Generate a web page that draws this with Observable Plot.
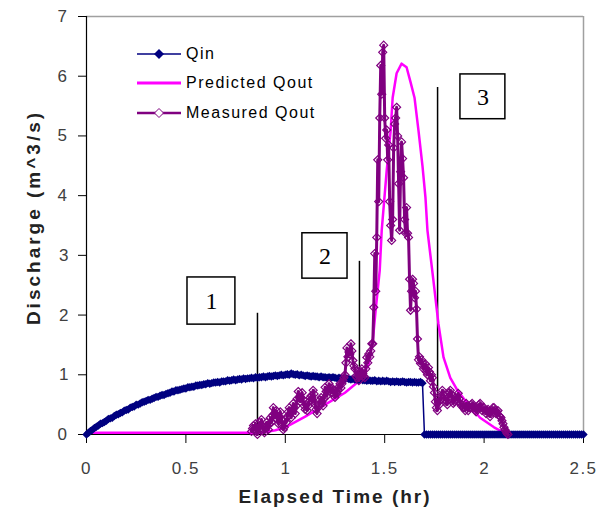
<!DOCTYPE html>
<html>
<head>
<meta charset="utf-8">
<script src="https://cdn.jsdelivr.net/npm/d3@7"></script>
<script src="https://cdn.jsdelivr.net/npm/@observablehq/plot@0.6"></script>
<style>
  html, body { margin: 0; padding: 0; background: #fff; }
  #wrap { position: relative; width: 609px; height: 518px; font-family: "Liberation Sans", Arial, sans-serif; }
  #legend { position: absolute; left: 137px; top: 39px; font-size: 16px; color: #000; letter-spacing: 1.5px; }
  #legend .row { display: flex; align-items: center; height: 29.5px; }
  #legend svg { margin-right: 5px; }
</style>
</head>
<body>
<div id="wrap"><div id="legend"></div></div>
<script>
// ---- data ----
const xTicks = [0, 0.5, 1, 1.5, 2, 2.5];
const yTicks = [0, 1, 2, 3, 4, 5, 6, 7];
const xTitle = "Elapsed Time (hr)";
const yTitle = "Discharge (m^3/s)";

// Qin sampled every 0.01 hr from 0 to 2.5
const qinStep = 0.01;
const qinValues = [
  0, 0.03, 0.06, 0.08, 0.11, 0.13, 0.15, 0.18, 0.19, 0.21,
  0.23, 0.26, 0.27, 0.28, 0.31, 0.33, 0.34, 0.36, 0.37, 0.40,
  0.41, 0.42, 0.45, 0.46, 0.47, 0.50, 0.50, 0.52, 0.54, 0.55,
  0.56, 0.58, 0.58, 0.60, 0.61, 0.63, 0.63, 0.65, 0.66, 0.66,
  0.68, 0.69, 0.70, 0.72, 0.72, 0.74, 0.74, 0.75, 0.76, 0.77,
  0.77, 0.79, 0.79, 0.80, 0.80, 0.82, 0.82, 0.83, 0.83, 0.84,
  0.84, 0.86, 0.85, 0.86, 0.87, 0.87, 0.88, 0.87, 0.89, 0.89,
  0.89, 0.91, 0.90, 0.91, 0.92, 0.91, 0.92, 0.93, 0.92, 0.94,
  0.93, 0.94, 0.94, 0.95, 0.94, 0.96, 0.95, 0.96, 0.96, 0.97,
  0.96, 0.97, 0.98, 0.97, 0.98, 0.99, 0.98, 0.99, 1.00, 0.99,
  1.00, 1.01, 1.00, 1.02, 1.01, 1.00, 1.01, 0.99, 1.00, 0.99,
  0.98, 0.99, 0.98, 0.97, 0.98, 0.97, 0.97, 0.96, 0.97, 0.96,
  0.96, 0.95, 0.96, 0.95, 0.96, 0.95, 0.94, 0.95, 0.94, 0.94,
  0.93, 0.94, 0.93, 0.92, 0.93, 0.92, 0.92, 0.91, 0.92, 0.91,
  0.91, 0.90, 0.91, 0.90, 0.90, 0.91, 0.89, 0.90, 0.89, 0.90,
  0.89, 0.90, 0.89, 0.88, 0.89, 0.88, 0.89, 0.88, 0.88, 0.89,
  0.88, 0.87, 0.88, 0.88, 0.87, 0.88, 0.87, 0.87, 0.88, 0.86,
  0, 0, 0, 0, 0, 0, 0, 0, 0, 0,
  0, 0, 0, 0, 0, 0, 0, 0, 0, 0,
  0, 0, 0, 0, 0, 0, 0, 0, 0, 0,
  0, 0, 0, 0, 0, 0, 0, 0, 0, 0,
  0, 0, 0, 0, 0, 0, 0, 0, 0, 0,
  0, 0, 0, 0, 0, 0, 0, 0, 0, 0,
  0, 0, 0, 0, 0, 0, 0, 0, 0, 0,
  0, 0, 0, 0, 0, 0, 0, 0, 0, 0,
  0
];

const predTime = [0, 0.88, 0.95, 1.0, 1.1, 1.2, 1.3, 1.38, 1.42, 1.44, 1.455, 1.475, 1.485, 1.51, 1.53, 1.54, 1.56, 1.585, 1.61, 1.63, 1.65, 1.67, 1.69, 1.705, 1.715, 1.745, 1.77, 1.796, 1.83, 1.866, 1.916, 1.98, 2.05, 2.1, 2.2];
const predQ    = [0.03, 0.03, 0.07, 0.12, 0.3, 0.5, 0.7, 0.92, 1.19, 1.57, 2.1, 2.75, 3.42, 4.42, 5.09, 5.64, 6.05, 6.21, 6.15, 5.9, 5.64, 5.09, 4.5, 3.97, 3.42, 2.58, 1.86, 1.29, 0.95, 0.74, 0.52, 0.28, 0.12, 0.03, 0.03];

// Measured Qout sampled every 0.005 hr from 0.83 to 2.12
const measStart = 0.83;
const measStep = 0.005;
const measQ = [
  0.05, 0.10, 0.15, 0.08, 0.18, 0.05, 0.00, 0.12, 0.20, 0.10,
  0.25, 0.15, 0.08, 0.03, 0.12, 0.20, 0.15, 0.08, 0.18, 0.28,
  0.20, 0.32, 0.45, 0.35, 0.28, 0.40, 0.25, 0.18, 0.30, 0.38,
  0.25, 0.15, 0.08, 0.12, 0.25, 0.20, 0.30, 0.38, 0.45, 0.35,
  0.28, 0.40, 0.52, 0.45, 0.35, 0.48, 0.60, 0.72, 0.62, 0.55,
  0.62, 0.70, 0.58, 0.48, 0.42, 0.50, 0.40, 0.48, 0.55, 0.62,
  0.65, 0.55, 0.74, 0.68, 0.50, 0.42, 0.35, 0.45, 0.50, 0.58,
  0.62, 0.55, 0.48, 0.60, 0.79, 0.72, 0.65, 0.75, 0.85, 0.78,
  0.70, 0.78, 0.75, 0.68, 0.62, 0.70, 0.69, 0.75, 0.80, 0.85,
  0.78, 0.85, 0.90, 0.95, 1.00, 1.20, 1.45, 1.30, 1.38, 1.35,
  1.52, 1.40, 1.24, 1.15, 1.10, 0.98, 0.95, 1.05, 0.90, 0.98,
  1.05, 1.10, 1.02, 0.98, 0.95, 1.10, 1.29, 1.20, 1.35, 1.30,
  1.40, 1.52, 1.52, 2.13, 3.03, 2.40, 3.30, 4.60, 3.90, 5.30,
  6.18, 5.70, 6.40, 6.52, 5.30, 4.96, 5.10, 4.60, 4.85, 3.90,
  3.50, 3.25, 3.60, 4.80, 5.20, 5.30, 5.48, 5.00, 4.20, 3.42,
  4.40, 4.90, 4.62, 4.30, 3.60, 3.37, 3.80, 3.37, 3.30, 2.60,
  2.08, 2.40, 2.60, 2.53, 2.29, 2.40, 2.10, 1.60, 1.25, 1.30,
  1.19, 1.25, 1.20, 1.10, 1.12, 1.18, 1.05, 1.00, 1.12, 1.05,
  0.90, 1.00, 0.95, 0.80, 0.70, 0.55, 0.45, 0.40, 0.60, 0.50,
  0.57, 0.65, 0.74, 0.68, 0.65, 0.58, 0.55, 0.50, 0.62, 0.70,
  0.74, 0.68, 0.60, 0.52, 0.55, 0.62, 0.58, 0.62, 0.69, 0.60,
  0.52, 0.48, 0.50, 0.45, 0.45, 0.40, 0.52, 0.48, 0.40, 0.45,
  0.45, 0.50, 0.52, 0.48, 0.45, 0.40, 0.38, 0.42, 0.45, 0.50,
  0.52, 0.45, 0.40, 0.45, 0.45, 0.40, 0.35, 0.40, 0.42, 0.36,
  0.30, 0.35, 0.40, 0.45, 0.45, 0.40, 0.35, 0.38, 0.40, 0.32,
  0.30, 0.28, 0.23, 0.18, 0.12, 0.08, 0.05, 0.02, 0.00
];

// numbered annotation boxes and their marker lines (data units)
const noteLabels = ["1", "2", "3"];
const noteBoxX1 = [0.508, 1.086, 1.881];
const noteBoxX2 = [0.749, 1.313, 2.107];
const noteBoxY1 = [1.84, 2.61, 5.28];
const noteBoxY2 = [2.63, 3.37, 6.03];
const noteLineX = [0.86, 1.373, 1.766];
const noteLineY1 = [0.03, 0.99, 0.52];
const noteLineY2 = [2.03, 2.90, 5.81];

const seriesNames = ["Qin", "Predicted Qout", "Measured Qout"];
const seriesColors = ["#000080", "#FF00FF", "#800080"];

// ---- build tables ----
const qin = qinValues.map((q, i) => ({t: +(i * qinStep).toFixed(3), q}));
const pred = predTime.map((t, i) => ({t, q: predQ[i]}));
const meas = measQ.map((q, i) => ({t: +(measStart + i * measStep).toFixed(4), q}));
const notes = noteLabels.map((label, i) => ({
  label, x1: noteBoxX1[i], x2: noteBoxX2[i], y1: noteBoxY1[i], y2: noteBoxY2[i],
  lx: noteLineX[i], ly1: noteLineY1[i], ly2: noteLineY2[i]
}));

const chart = Plot.plot({
  width: 609,
  height: 518,
  marginLeft: 86,
  marginRight: 26,
  marginTop: 16,
  marginBottom: 84,
  style: {fontFamily: "'Liberation Sans', Arial, sans-serif", background: "white", overflow: "visible"},
  x: {domain: [0, 2.5], label: null},
  y: {domain: [0, 7], label: null},
  marks: [
    // plot frame (top/right gray)
    Plot.ruleY([7], {stroke: "#a0a0a0", strokeWidth: 1.5}),
    Plot.ruleX([2.5], {stroke: "#a0a0a0", strokeWidth: 1.5}),
    // axes
    Plot.axisX(xTicks, {tickSize: 9, tickPadding: 18, fontSize: 17, stroke: "black", fill: "#404040", tickFormat: d => String(d)}),
    Plot.axisY(yTicks, {tickSize: 8, tickPadding: 10, fontSize: 17, stroke: "black", fill: "#404040", tickFormat: d => String(d)}),
    Plot.ruleX([0], {stroke: "black", strokeWidth: 1.2}),
    Plot.ruleY([0], {stroke: "black", strokeWidth: 1.2}),
    Plot.text([xTitle], {frameAnchor: "bottom", dy: 68, fontWeight: "bold", fontSize: 19, fill: "#222"}),
    Plot.text([yTitle], {frameAnchor: "left", dx: -53, dy: -8, rotate: -90, textAnchor: "middle", fontWeight: "bold", fontSize: 19, fill: "#222"}),
    // annotation lines and boxes
    Plot.ruleX(notes, {x: "lx", y1: "ly1", y2: "ly2", stroke: "black", strokeWidth: 1.5}),
    Plot.rect(notes, {x1: "x1", x2: "x2", y1: "y1", y2: "y2", fill: "white", stroke: "black", strokeWidth: 1.5}),
    Plot.text(notes, {x: d => (d.x1 + d.x2) / 2, y: d => (d.y1 + d.y2) / 2, text: "label", fontFamily: "'Liberation Serif', 'Times New Roman', serif", fontSize: 24, fill: "black"}),
    // series
    Plot.line(pred, {x: "t", y: "q", stroke: seriesColors[1], strokeWidth: 2.5}),
    Plot.line(qin, {x: "t", y: "q", stroke: seriesColors[0], strokeWidth: 1.5}),
    Plot.dot(qin, {x: "t", y: "q", symbol: "diamond2", r: 3.8, fill: seriesColors[0], stroke: "none"}),
    Plot.line(meas, {x: "t", y: "q", stroke: seriesColors[2], strokeWidth: 3}),
    Plot.dot(meas, {x: "t", y: "q", symbol: "diamond2", r: 3.6, fill: "none", stroke: seriesColors[2], strokeWidth: 1.2})
  ]
});

// letter spacing for tick labels and titles
d3.select(chart).selectAll("text").each(function () {
  const s = this.textContent;
  if (s === xTitle) this.setAttribute("letter-spacing", "2");
  else if (s === yTitle) this.setAttribute("letter-spacing", "3");
  else if (!noteLabels.includes(s)) this.setAttribute("letter-spacing", "1.5");
});

const wrap = document.getElementById("wrap");
wrap.insertBefore(chart, wrap.firstChild);

// legend
const legend = document.getElementById("legend");
seriesNames.forEach((name, i) => {
  const row = document.createElement("div");
  row.className = "row";
  let sym = "";
  if (i === 0) sym = `<path d="M22,2 L27,7 L22,12 L17,7 Z" fill="${seriesColors[0]}"/>`;
  if (i === 2) sym = `<path d="M22,2.5 L26.5,7 L22,11.5 L17.5,7 Z" fill="white" stroke="${seriesColors[2]}" stroke-width="1"/>`;
  const sw = i === 1 ? 3 : (i === 2 ? 2.5 : 1.5);
  row.innerHTML = `<svg width="44" height="14"><line x1="0" x2="44" y1="7" y2="7" stroke="${seriesColors[i]}" stroke-width="${sw}"/>${sym}</svg><span>${name}</span>`;
  legend.appendChild(row);
});
</script>
</body>
</html>
